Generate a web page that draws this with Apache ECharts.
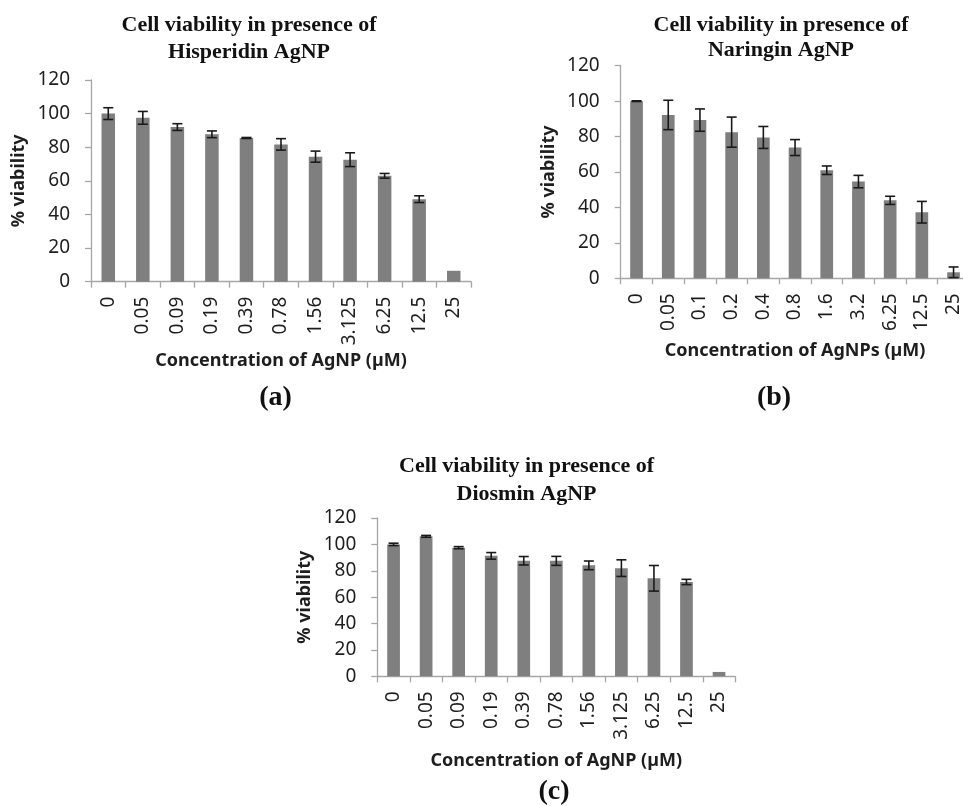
<!DOCTYPE html>
<html>
<head>
<meta charset="utf-8">
<script src="https://cdn.jsdelivr.net/npm/echarts@6/dist/echarts.min.js"></script>
<style>
html,body{margin:0;padding:0;background:#fff;}
#chart{width:963px;height:806px;}
</style>
</head>
<body>
<div id="chart"></div>
<script>
// ---- Data ----
const categoriesA = ['0','0.05','0.09','0.19','0.39','0.78','1.56','3.125','6.25','12.5','25'];
const valuesA = [100, 97.5, 92, 87.7, 85.5, 81.7, 74.4, 72.6, 63, 49.1, 6.5];
const errorsA = [3.5, 3.8, 2, 2, 0.3, 3.4, 3.3, 4.1, 1.4, 2, 0];

const categoriesB = ['0','0.05','0.1','0.2','0.4','0.8','1.6','3.2','6.25','12.5','25'];
const valuesB = [100, 92.2, 89.3, 82.5, 79.5, 73.8, 61, 54.6, 44, 37.3, 3.4];
const errorsB = [0.2, 8.3, 6.3, 8.5, 6.2, 4.5, 2.4, 3.5, 2.3, 6.1, 3];

const categoriesC = ['0','0.05','0.09','0.19','0.39','0.78','1.56','3.125','6.25','12.5','25'];
const valuesC = [100, 106.1, 97.5, 91.3, 87.6, 87.5, 84.1, 82, 74.3, 71.5, 3.3];
const errorsC = [0.9, 0.7, 0.8, 2.5, 3.2, 3.4, 3.3, 6.3, 9.7, 2, 0];

const yTicks = {min: 0, max: 120, interval: 20};

const titles = [
  'Cell viability in presence of\nHisperidin AgNP',
  'Cell viability in presence of\nNaringin AgNP',
  'Cell viability in presence of\nDiosmin AgNP'
];
const xNames = ['Concentration of AgNP (µM)', 'Concentration of AgNPs (µM)', 'Concentration of AgNP (µM)'];
const yName = '% viability';
const panelLabels = ['(a)', '(b)', '(c)'];

// ---- Layout ----
const grids = [
  {left: 91, top: 80, width: 380, height: 201.7},
  {left: 620.7, top: 65.7, width: 348.7, height: 212.6},
  {left: 377.3, top: 518, width: 358, height: 158.3}
];
const xNameGaps = [70.5, 64, 76];
const barWidths = [13.5, 12.7, 12.7];
const titlePos = [
  {x: 249, top: 12.3, lh: 27},
  {x: 781, top: 13.3, lh: 25},
  {x: 526.5, top: 452, lh: 28.5}
];
const labelPos = [{x: 275.5, y: 398}, {x: 774, y: 398}, {x: 554, y: 792}];

const sets = [
  {cats: categoriesA, vals: valuesA, errs: errorsA},
  {cats: categoriesB, vals: valuesB, errs: errorsB},
  {cats: categoriesC, vals: valuesC, errs: errorsC}
];

const axisGray = '#a6a6a6';
const textColor = '#1e1e1e';
const sansFont = 'Noto Sans';

const option = {
  backgroundColor: '#fff',
  animation: false,
  title: titles.map((t, i) => ({
    text: t,
    left: titlePos[i].x,
    top: titlePos[i].top,
    textAlign: 'center',
    padding: 0,
    textStyle: {
      fontFamily: 'Liberation Serif',
      fontWeight: 'bold',
      fontSize: 22,
      lineHeight: titlePos[i].lh,
      color: '#111'
    }
  })),
  graphic: panelLabels.map((t, i) => ({
    type: 'text',
    x: labelPos[i].x,
    y: labelPos[i].y,
    style: {
      text: t,
      fill: '#111',
      font: 'bold 28px "Liberation Serif"',
      align: 'center',
      verticalAlign: 'middle'
    }
  })),
  grid: grids.map(g => Object.assign({containLabel: false, outerBoundsMode: 'none'}, g)),
  xAxis: sets.map((s, i) => ({
    type: 'category',
    gridIndex: i,
    data: s.cats,
    boundaryGap: true,
    name: xNames[i],
    nameLocation: 'middle',
    nameGap: xNameGaps[i],
    nameTextStyle: {fontFamily: sansFont, fontWeight: 'bold', fontSize: 18, color: textColor},
    axisLine: {show: true, lineStyle: {color: axisGray, width: 1.3}},
    axisTick: {show: true, alignWithLabel: false, inside: false, length: 6, lineStyle: {color: axisGray, width: 1.3}},
    axisLabel: {show: true, rotate: 90, margin: 15, interval: 0, fontFamily: sansFont, fontSize: 19, color: textColor},
    splitLine: {show: false}
  })),
  yAxis: sets.map((s, i) => ({
    type: 'value',
    gridIndex: i,
    min: yTicks.min,
    max: yTicks.max,
    interval: yTicks.interval,
    name: yName,
    nameLocation: 'middle',
    nameRotate: 90,
    nameGap: 63,
    nameTextStyle: {fontFamily: sansFont, fontWeight: 'bold', fontSize: 18, color: textColor},
    axisLine: {show: true, lineStyle: {color: axisGray, width: 1.3}},
    axisTick: {show: true, inside: false, length: 6, lineStyle: {color: axisGray, width: 1.3}},
    axisLabel: {show: true, margin: 21, fontFamily: sansFont, fontSize: 19, color: textColor},
    splitLine: {show: false}
  })),
  series: []
};

sets.forEach((s, i) => {
  option.series.push({
    type: 'bar',
    xAxisIndex: i,
    yAxisIndex: i,
    data: s.vals,
    barWidth: barWidths[i],
    itemStyle: {color: '#7f7f7f'},
    emphasis: {disabled: true}
  });
  option.series.push({
    type: 'custom',
    xAxisIndex: i,
    yAxisIndex: i,
    data: s.vals.map((v, k) => [k, v, s.errs[k]]),
    z: 5,
    renderItem: function (params, api) {
      const idx = api.value(0);
      const v = api.value(1);
      const e = api.value(2);
      if (!e) return null;
      const hi = api.coord([idx, v + e]);
      const lo = api.coord([idx, v - e]);
      const hw = 5;
      const st = {stroke: '#1a1a1a', lineWidth: 1.6};
      return {
        type: 'group',
        children: [
          {type: 'line', shape: {x1: hi[0], y1: hi[1], x2: lo[0], y2: lo[1]}, style: st},
          {type: 'line', shape: {x1: hi[0] - hw, y1: hi[1], x2: hi[0] + hw, y2: hi[1]}, style: st},
          {type: 'line', shape: {x1: lo[0] - hw, y1: lo[1], x2: lo[0] + hw, y2: lo[1]}, style: st}
        ]
      };
    }
  });
});

const chart = echarts.init(document.getElementById('chart'), null, {renderer: 'canvas'});
chart.setOption(option);
</script>
</body>
</html>
